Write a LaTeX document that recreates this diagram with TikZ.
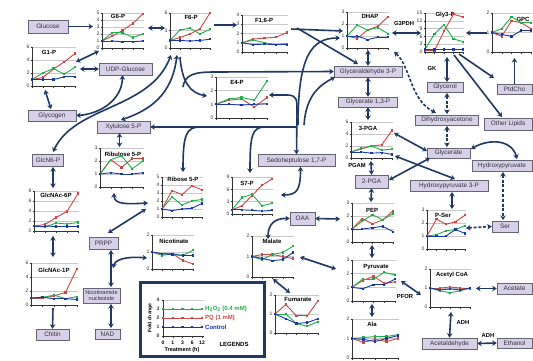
\documentclass[tikz,border=0pt]{standalone}
\usepackage{fontspec}
\setmainfont{Liberation Sans}
\usetikzlibrary{arrows.meta}
\definecolor{navy}{RGB}{32,56,100}
\definecolor{boxfill}{RGB}{216,208,232}
\definecolor{boxdraw}{RGB}{100,100,115}
\definecolor{cred}{RGB}{205,70,70}
\definecolor{cgreen}{RGB}{30,175,75}
\definecolor{cblue}{RGB}{25,55,165}
\definecolor{gridc}{RGB}{200,200,200}
\definecolor{txt}{RGB}{50,50,60}
\tikzset{
 mbox/.style={draw=boxdraw, line width=0.5pt, fill=boxfill, font=\fontsize{6.4}{6.8}\selectfont, text=txt, inner sep=1pt, minimum height=11pt, align=center},
 arr/.style={draw=navy, line width=1.6pt, -{Stealth[length=4.5pt,width=5.5pt]}},
 darr/.style={draw=navy, line width=1.6pt, {Stealth[length=4.5pt,width=5.5pt]}-{Stealth[length=4.5pt,width=5.5pt]}},
 dsh/.style={dash pattern=on 3pt off 1.8pt},
 grid/.style={draw=gridc, line width=0.5pt},
 axis/.style={draw=black!80, line width=0.5pt},
 ticklab/.style={font=\fontsize{5}{5}\selectfont, anchor=east, inner sep=0.5pt, text=black!80},
 ctitle/.style={font=\bfseries\fontsize{6}{6}\selectfont, inner sep=0.3pt, fill=white},
 enz/.style={font=\bfseries\fontsize{5.8}{6}\selectfont, inner sep=0.5pt},
}
\newcommand\mchart[7]{%
  \def\cxa{#2}\def\cxb{#3}\def\cyt{#4}\def\cyb{#5}\def\cym{#6}%
  \node[inner sep=0pt,minimum width={(#3-#2)*1pt},minimum height={(#5-#4)*1pt}] (#1) at ({(#2+#3)/2},{(#4+#5)/2}) {};
  \foreach \t in {#7}{%
    \pgfmathsetmacro\ty{#5-\t*(#5-#4)/#6}
    \ifdim\t pt>0pt \draw[grid] (#2,\ty) -- (#3+1,\ty);\fi
    \draw[axis] (#2-1.5,\ty) -- (#2,\ty);
    \node[ticklab] (#1y\t) at (#2-2,\ty) {\t};
  }
  \draw[axis] (#2,#4) -- (#2,#5) -- (#3+1,#5);
  \foreach \i in {0,...,4} \draw[axis] ({#2+\i*(#3-#2)/4},#5) -- ++(0,1.5);
}
\newcommand\mseries[2]{%
  \foreach \v [count=\i from 0] in {#2}{%
    \pgfmathsetmacro\px{\cxa+\i*(\cxb-\cxa)/4}
    \pgfmathsetmacro\py{\cyb-\v*(\cyb-\cyt)/\cym}
    \ifnum\i>0 \draw[#1,line width=0.9pt,line cap=round] (\lpx,\lpy) -- (\px,\py);\fi
    \fill[#1] (\px-1.1,\py-1.1) rectangle (\px+1.1,\py+1.1);
    \xdef\lpx{\px}\xdef\lpy{\py}
  }}
\newcommand\rgb[3]{\mseries{cred}{#1}\mseries{cgreen}{#2}\mseries{cblue}{#3}}
\begin{document}
\begin{tikzpicture}[x=1pt,y=-1pt]
\useasboundingbox (0,0) rectangle (533,360);
\fill[white] (0,0) rectangle (533,360);

% ---------- charts ----------
\mchart{g6p}{102}{143}{13}{48}{5}{0,...,5}
\node[ctitle] (g6pt) at (118,16.5) {G6-P};
\rgb{1,1.7,2.5,3.5,4.9}{1,2.2,2.2,1.5,2.0}{1,1,0.9,0.9,1.0}

\mchart{g1p}{32}{75}{47}{86}{6}{0,2,4,6}
\node[ctitle] (g1pt) at (49,52) {G1-P};
\rgb{1,1.3,2.6,3.7,5.0}{1,2,2.7,1.8,2.9}{1,1,1,1.4,1.4}

\mchart{f6p}{170}{210}{13}{48}{6}{0,3,6}
\node[ctitle] (f6pt) at (191,17) {F6-P};
\rgb{1.3,1.8,2.4,3.3,6.0}{1.3,3.1,3.4,2.4,3.2}{1.3,1.3,1.2,1.3,1.5}

\mchart{f16p}{242}{287}{15}{52}{4}{0,...,4}
\node[ctitle] (f16pt) at (264,21) {F1,6-P};
\rgb{1,1.4,1.5,1.6,2.1}{1,1.3,1.0,0.8,0.9}{1,0.8,0.85,0.8,0.8}

\mchart{dhap}{347}{388}{12}{48}{3}{0,...,3}
\node[ctitle] (dhapt) at (370,16) {DHAP};
\rgb{1,0.8,1.5,1.8,2.6}{1,1.9,1.5,1.7,1.2}{1,1.0,0.7,0.9,0.9}

\mchart{gly3p}{425}{463}{13}{52}{15}{0,3,...,15}
\node[ctitle] (gly3pt) at (445,15) {Gly3-P};
\rgb{0.5,0.5,8,14.5,13.5}{1,7,10.5,5,4}{1,1,1,1,1}

\mchart{gpc}{492}{531}{13}{52}{2}{0,1,2}
\node[ctitle] (gpct) at (523,19) {GPC};
\rgb{1,0.8,1.6,1.5,1.2}{1,1.2,1.8,1.5,1.5}{1,0.9,0.8,1.1,1.1}

\mchart{e4p}{216}{267}{77}{118}{3}{0,...,3}
\node[ctitle] (e4pt) at (237,82) {E4-P};
\rgb{1,1.3,1.4,0.8,1.5}{1,1.4,1.5,1.3,2.7}{1,1,0.95,1,1.05}

\mchart{ru5p}{100}{143}{148}{187}{3}{0,...,3}
\node[ctitle] (ru5pt) at (123,154) {Ribulose 5-P};
\rgb{1,2.1,1.5,2.2,2.2}{1,2.1,2.4,1.4,2.0}{1,1.1,1.0,1.0,1.1}

\mchart{r5p}{162}{202}{177}{217}{5}{0,...,5}
\node[ctitle] (r5pt) at (183,179.5) {Ribose 5-P};
\rgb{1,3.3,2.8,3.9,3.4}{1,2.5,1.5,2.0,2.2}{1,0.8,1.0,1.1,1.7}

\mchart{s7p}{232}{272}{177}{214}{9}{0,3,6,9}
\node[ctitle] (s7pt) at (247,183) {S7-P};
\rgb{1,2,4.5,7,8.5}{1,4,4.8,2,2.6}{1,1,0.9,0.7,0.9}

\mchart{glcnac6p}{34}{78}{191}{231}{8}{0,2,4,6,8}
\node[ctitle] (glcnac6pt) at (56,195) {GlcNAc-6P};
\rgb{1,1.3,2.7,3.9,7.5}{1,0.8,1.6,1.4,1.7}{1,1,0.9,0.9,0.9}

\mchart{glcnac1p}{31}{77}{263}{305}{6}{0,2,4,6}
\node[ctitle] (glcnac1pt) at (54,270) {GlcNAc-1P};
\rgb{1,1,1.3,1.8,5.2}{1,1.1,1.4,0.9,1.2}{1,1.1,0.9,0.9,0.8}

\mchart{nicotinate}{152}{193}{235}{269}{2}{0,1,2}
\node[ctitle] (nicotinatet) at (174,241) {Nicotinate};
\rgb{1,0.9,0.9,0.5,0.3}{1,0.8,0.9,0.8,1.1}{1,0.9,0.85,0.8,0.8}

\mchart{malate}{252}{293}{236}{277}{2}{0,1,2}
\node[ctitle] (malatet) at (272,241) {Malate};
\rgb{1,1.1,1.1,1.0,0.9}{1,0.85,1.1,1.2,1.5}{1,0.9,0.8,0.85,1.2}

\mchart{fumarate}{275}{318}{295}{333}{2}{0,1,2}
\node[ctitle] (fumaratet) at (298,299.5) {Fumarate};
\rgb{1,1.5,0.9,0.9,1.7}{1,1,0.5,0.35,0.6}{1,0.75,0.5,0.55,0.75}

\mchart{pga3}{351}{392}{122}{158}{6}{0,2,4,6}
\node[ctitle] (pga3t) at (368,128) {3-PGA};
\rgb{1,1.5,2,2.2,4.6}{1,1.6,2,1.3,1.5}{1,1,0.8,0.9,0.6}

\mchart{pep}{352}{393}{203}{242}{3}{0,...,3}
\node[ctitle] (pept) at (372,210) {PEP};
\rgb{1,1.8,1.4,1.7,2.4}{1,1.6,2.1,1.7,2.2}{1,1,1.1,1.2,0.8}

\mchart{pyr}{352}{395}{260}{301}{3}{0,...,3}
\node[ctitle] (pyrt) at (376,267) {Pyruvate};
\rgb{1,1.5,1.8,1.3,1.4}{1,1.6,1.6,2.1,1.9}{1,0.9,1.2,1.2,1.6}

\mchart{ala}{352}{398}{319}{358}{2}{0,1,2}
\node[ctitle] (alat) at (372,324) {Ala};
\rgb{1,0.8,0.95,0.85,1.0}{1,1.05,1.1,1.1,1.2}{1,0.95,0.85,1.0,1.15}

\mchart{pser}{427}{465}{210}{249}{3}{0,...,3}
\node[ctitle] (psert) at (443,215) {P-Ser};
\rgb{1,2.3,1.9,2.1,2.6}{1,1.1,1.4,1.5,1.8}{1,1,1,1.5,1.2}

\mchart{accoa}{430}{470}{269}{307}{2}{0,1,2}
\node[ctitle] (accoat) at (452,275) {Acetyl CoA};
\rgb{1,1,1.05,1,0.95}{1,0.85,0.75,0.85,1.0}{1,0.9,0.95,0.9,1.0}

% ---------- boxes ----------
\node[mbox,minimum width=40pt,minimum height=13pt] (glucose) at (48,26.5) {Glucose};
\node[mbox,minimum width=53pt,minimum height=12pt] (udpg) at (125.5,69) {UDP-Glucose};
\node[mbox,minimum width=48pt] (glycogen) at (52,115.5) {Glycogen};
\node[mbox,minimum width=53pt,minimum height=12pt] (xyl) at (123.5,127) {Xylulose 5-P};
\node[mbox,minimum width=31pt,minimum height=12pt] (glcn6p) at (48,160) {GlcN6-P};
\node[mbox,minimum width=68pt] (ga3p) at (368,71.5) {Glyceraldehyde 3-P};
\node[mbox,minimum width=59pt,minimum height=10pt] (g13p) at (368,102) {Glycerate 1,3-P};
\node[mbox,minimum width=36pt,minimum height=10pt] (glycerol) at (445,87) {Glycerol};
\node[mbox,minimum width=63pt,minimum height=10pt] (dha) at (447,120) {Dihydroxyacetone};
\node[mbox,minimum width=35pt,minimum height=10pt] (ptdcho) at (514.5,89) {PtdCho};
\node[mbox,minimum width=48pt,minimum height=12pt] (olip) at (508,124) {Other Lipids};
\node[mbox,minimum width=43pt,minimum height=10pt] (glycerate) at (448.5,153) {Glycerate};
\node[mbox,minimum width=60pt] (hpyr) at (502,165.5) {Hydroxypyruvate};
\node[mbox,minimum width=78pt] (hp3p) at (449,185.5) {Hydroxypyruvate 3-P};
\node[mbox,minimum width=26pt] (ser) at (505,226.5) {Ser};
\node[mbox,minimum width=33pt,minimum height=13pt] (pga2) at (371.5,181.5) {2-PGA};
\node[mbox,minimum width=77pt,minimum height=12pt] (sedo) at (296.5,160.5) {Sedoheptulose 1,7-P};
\node[mbox,minimum width=25pt,minimum height=13pt] (oaa) at (302.5,218.5) {OAA};
\node[mbox,minimum width=29pt,minimum height=12pt] (prpp) at (103.5,243) {PRPP};
\node[mbox,minimum width=37pt,minimum height=15pt,font=\fontsize{5.6}{6}\selectfont] (nn) at (101.5,295.5) {Nicotinamide\\nucleotide};
\node[mbox,minimum width=25pt,minimum height=10pt] (nad) at (107.5,334) {NAD};
\node[mbox,minimum width=33pt] (chitin) at (52.5,334.5) {Chitin};
\node[mbox,minimum width=35pt] (acetate) at (514.5,288.5) {Acetate};
\node[mbox,minimum width=55pt] (acetald) at (449.5,343.5) {Acetaldehyde};
\node[mbox,minimum width=35pt,minimum height=10pt] (ethanol) at (514.5,343) {Ethanol};

% ---------- enzyme labels ----------
\node[enz] (g3pdh) at (404,24) {G3PDH};
\node[enz] (gk) at (432,68) {GK};
\node[enz] (pgam) at (357,165) {PGAM};
\node[enz] (pfor) at (405,296) {PFOR};
\node[enz] (adh1) at (463,322) {ADH};
\node[enz] (adh2) at (488,335) {ADH};

% ---------- connectors ----------
\draw[arr] (glucose.east) -- (93,26.5);
\draw[darr] (76,62) -- (99,51);
\draw[darr] (80,69) -- (udpg.west);
\draw[darr] (45,90) -- (51,109);
\draw[darr] ([xshift=-3pt]udpg.south) .. controls (122,100) and (100,114) .. (glycogen.east);
\draw[darr] (148,28) -- (165,28);
\draw[arr] (214,25) -- (237,25);
\draw[darr] (171,55) .. controls (150,110) and (75,105) .. (53,152);
\draw[darr] (177,55) .. controls (172,95) and (150,110) .. (121,120);
\draw[arr] (180,57) .. controls (182,82) and (190,93) .. (207,96);
\draw[arr] (183,87) .. controls (185,74) and (195,72) .. (215,72) -- (ga3p.west);
\draw[arr] (291,29) -- (343,31);
\draw[arr] (297,28) -- (358,64);
\draw[arr] (298,125) .. controls (298,55) and (312,38) .. (340,38);
\draw[arr] (304,125) .. controls (306,95) and (320,85) .. (335,77);
\draw[darr] (269,95) -- (287,95) .. controls (297,95) and (297,100) .. (297,110) -- (sedo.north);
\draw[arr] (297,127) -- (xyl.east);
\draw[arr] (200,127) .. controls (186,127) and (183,135) .. (183,172);
\draw[arr] (265,127) .. controls (252,127) and (250,135) .. (250,173);
\draw[darr] ([xshift=-4pt]xyl.south) -- (119.5,147);
\draw[darr] (53,167) -- (53,188);
\draw[darr] (114,193) .. controls (114,205) and (128,204) .. (148,203);
\draw[darr] (146,209) -- (108,233);
\draw[darr] (111,250) -- (111,287);
\draw[darr] (147,258) .. controls (125,256) and (115,260) .. (113,268);
\draw[darr] (111,304) -- (111,328);
\draw[darr] (53,236) -- (53,257);
\draw[arr] (53,308) -- (chitin.north);
\draw[darr] (368,50) -- (ga3p.north);
\draw[darr] (ga3p.south) -- (g13p.north);
\draw[darr] (g13p.south) -- (368,120);
\draw[darr] (371,161) -- (pga2.north);
\draw[darr] (pga2.south) -- (371,202);
\draw[darr] (372,245) -- (372,258);
\draw[darr] (372,304) -- (372,317);
\draw[darr] (401,281) -- (421,295);
\draw[darr] (476,288.5) -- (acetate.west);
\draw[darr] (451,312) -- (acetald.north);
\draw[darr] (acetald.east) -- (ethanol.west);
\draw[darr] (300,257) -- (336,269);
\draw[darr] (273,279) -- (290,293);
\draw[darr] (oaa.east) -- (340,219);
\draw[darr] (oaa.west) .. controls (275,218) and (268,224) .. (268,239);
\draw[darr] ([xshift=4pt]sedo.south) .. controls (300.5,190) and (297,195) .. (281,195);
\draw[darr] (392,33) -- (421,33);
\draw[arr] (487,33) -- (466,33);
\draw[arr] (ptdcho.north) -- (514.5,58);
\draw[arr] (459,54) -- (494,78);
\draw[arr] (454,55) -- (502,117);
\draw[darr] (447,57) -- (447,82);
\draw[darr,dsh] (447,93) -- (447,114);
\draw[darr,dsh] (447,126) -- (447,147);
\draw[darr,dsh] (436,113) .. controls (410,100) and (410,65) .. (394,52);
\draw[darr] (471,149) .. controls (490,138) and (512,140) .. (517,159);
\draw[darr,dsh] (503,172) -- (503,220);
\draw[darr] (452,192) -- (452,209);
\draw[darr,dsh] (466,228) -- (ser.west);
\draw[darr] (394,133) -- (427,151);
\draw[darr] (395,156) -- (455,179);
\draw[darr] (389,180) -- (430,158);

% ---------- legend ----------
\node[draw=navy, line width=2.4pt, minimum width=124pt, minimum height=74pt, inner sep=0pt] (legend) at (202.5,319.5) {};
\draw[grid] (163,300) -- (204,300);
\foreach \t in {0,...,4} {
  \node[ticklab,font=\bfseries\fontsize{5}{5}\selectfont] (lgy\t) at (160,{336-9*\t}) {\t};
  \draw[axis] (161.5,{336-9*\t}) -- (163,{336-9*\t});
}
\draw[axis] (163,300) -- (163,336) -- (204,336);
\foreach \x/\l [count=\i] in {163/0,172.75/1,182.5/3,192.25/6,202/12} {
  \draw[axis] (\x,336) -- (\x,337.5);
  \node[font=\bfseries\fontsize{5}{5}\selectfont, inner sep=0] (lgx\i) at (\x,342.5) {\l};
}
\foreach \c/\v in {cgreen/3, cred/2, cblue/1} {
  \draw[\c, line width=0.9pt] (163,{336-9*\v}) -- (202,{336-9*\v});
  \foreach \x in {163,172.75,182.5,192.25,202}
    \fill[\c] (\x-1.1,{336-9*\v-1.1}) rectangle (\x+1.1,{336-9*\v+1.1});
}
\node[font=\bfseries\fontsize{6}{6}\selectfont, text=cgreen, anchor=west, inner sep=0] (lg1) at (205,309) {H\textsubscript{2}O\textsubscript{2} (0.4 mM)};
\node[font=\bfseries\fontsize{6}{6}\selectfont, text=cred, anchor=west, inner sep=0] (lg2) at (205,318) {PQ (1 mM)};
\node[font=\bfseries\fontsize{6}{6}\selectfont, text=cblue, anchor=west, inner sep=0] (lg3) at (205,327) {Control};
\node[font=\bfseries\fontsize{5.5}{6}\selectfont, inner sep=0] (lgt) at (182,350.5) {Treatment (h)};
\node[font=\bfseries\fontsize{5}{5}\selectfont, rotate=90, inner sep=0] (lgf) at (150,318) {Fold change};
\node[font=\bfseries\fontsize{6}{6}\selectfont, inner sep=0] (lgl) at (234,344) {LEGENDS};
\end{tikzpicture}
\end{document}
